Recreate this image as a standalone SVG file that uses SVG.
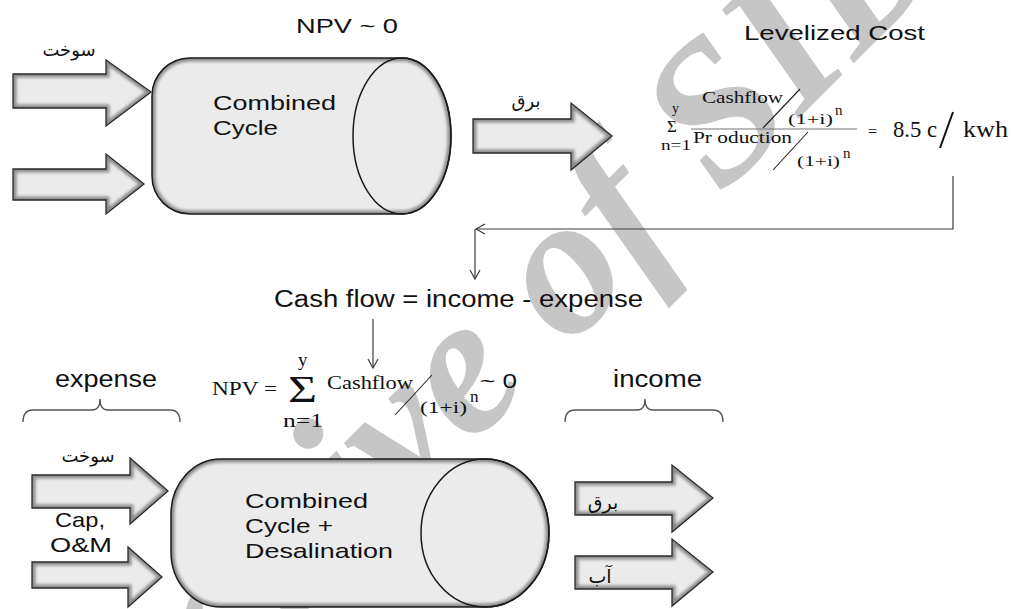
<svg xmlns="http://www.w3.org/2000/svg" xmlns:xlink="http://www.w3.org/1999/xlink" width="1012" height="609" viewBox="0 0 1012 609">
<style>
.sans{font-family:"Liberation Sans",Arial,sans-serif;fill:#111}
.ser{font-family:"Liberation Serif","Times New Roman",serif;fill:#111}
.ar{font-family:"DejaVu Sans","Noto Sans",sans-serif;fill:#111;text-anchor:middle}
.fill{fill:#ebebeb;stroke:none}
.bev{fill:none;stroke:#8c8c8c;stroke-width:7;filter:url(#bl)}
.edge{fill:none;stroke:#2a2a2a;stroke-width:1.3;stroke-linejoin:miter}
.cyl{fill:none;stroke:#1a1a1a;stroke-width:1.5}
.con{fill:none;stroke:#3c3c3c;stroke-width:1.2}
.brace{fill:none;stroke:#555;stroke-width:1.4}
.sl{stroke:#222;stroke-width:1.1}
.wm{font-family:"Liberation Serif","Times New Roman",serif;font-weight:bold;font-style:italic;font-size:200px;fill:#c6c6c6}
</style>
<defs>
<filter id="bl" x="-10%" y="-10%" width="120%" height="120%"><feGaussianBlur stdDeviation="1.8"/></filter>
<marker id="open" markerUnits="userSpaceOnUse" markerWidth="12" markerHeight="12" refX="10" refY="6" orient="auto"><path d="M1,1 L10,6 L1,11" fill="none" stroke="#3c3c3c" stroke-width="1.2"/></marker>
<path id="a1" d="M13,74 L106,74 L106,60 L151,92 L106,126 L106,108 L13,108 Z"/>
<path id="a2" d="M13,169 L106,169 L106,154 L144,184 L106,214 L106,200 L13,200 Z"/>
<path id="a3" d="M473,119 L571,119 L571,103 L612,136 L571,170 L571,153 L473,153 Z"/>
<path id="a4" d="M32,475 L130,475 L130,458 L168,491 L130,524 L130,508 L32,508 Z"/>
<path id="a5" d="M32,562 L128,562 L128,547 L162,577 L128,607 L128,588 L32,588 Z"/>
<path id="a6" d="M575,482 L672,482 L672,465 L713,498 L672,532 L672,515 L575,515 Z"/>
<path id="a7" d="M575,556 L672,556 L672,539 L713,572 L672,606 L672,589 L575,589 Z"/>
<path id="c1" d="M190,58 H402 A49,78 0 0 1 402,214 H190 A38,38 0 0 1 152,176 V96 A38,38 0 0 1 190,58 Z"/>
<path id="c2" d="M221,459 H485 A64,74 0 0 1 485,607 H221 A50,55 0 0 1 171,552 V514 A50,55 0 0 1 221,459 Z"/>
<clipPath id="k1"><use xlink:href="#a1"/></clipPath>
<clipPath id="k2"><use xlink:href="#a2"/></clipPath>
<clipPath id="k3"><use xlink:href="#a3"/></clipPath>
<clipPath id="k4"><use xlink:href="#a4"/></clipPath>
<clipPath id="k5"><use xlink:href="#a5"/></clipPath>
<clipPath id="k6"><use xlink:href="#a6"/></clipPath>
<clipPath id="k7"><use xlink:href="#a7"/></clipPath>
<clipPath id="kc1"><use xlink:href="#c1"/></clipPath>
<clipPath id="kc2"><use xlink:href="#c2"/></clipPath>
</defs>
<rect width="1012" height="609" fill="#fff"/>
<text class="wm" transform="translate(77,840) rotate(-45)">Archive of SID</text>

<g id="cylinder-top">
<use xlink:href="#c1" class="fill"/><use xlink:href="#c1" class="bev" clip-path="url(#kc1)"/><use xlink:href="#c1" class="cyl"/>
<ellipse cx="402" cy="136" rx="49" ry="78" class="cyl"/>
<text class="sans" x="213" y="110" font-size="21" textLength="123" lengthAdjust="spacingAndGlyphs">Combined</text>
<text class="sans" x="213" y="135" font-size="21" textLength="65" lengthAdjust="spacingAndGlyphs">Cycle</text>
</g>
<g id="arrow-fuel-top"><use xlink:href="#a1" class="fill"/><use xlink:href="#a1" class="bev" clip-path="url(#k1)"/><use xlink:href="#a1" class="edge"/>
<text class="ar" x="69" y="56" font-size="18">سوخت</text></g>
<g id="arrow-in2-top"><use xlink:href="#a2" class="fill"/><use xlink:href="#a2" class="bev" clip-path="url(#k2)"/><use xlink:href="#a2" class="edge"/></g>
<g id="arrow-power-top"><use xlink:href="#a3" class="fill"/><use xlink:href="#a3" class="bev" clip-path="url(#k3)"/><use xlink:href="#a3" class="edge"/>
<text class="ar" x="526" y="107" font-size="18">برق</text></g>
<text class="sans" x="296" y="33" font-size="21" textLength="102" lengthAdjust="spacingAndGlyphs">NPV ~ 0</text>

<g id="levelized-cost">
<text class="sans" x="744" y="40" font-size="21" textLength="181" lengthAdjust="spacingAndGlyphs">Levelized Cost</text>
<text class="ser" x="672" y="113" font-size="14">y</text>
<text class="ser" x="667" y="132" font-size="17">Σ</text>
<text class="ser" x="661" y="150" font-size="14" textLength="30" lengthAdjust="spacingAndGlyphs">n=1</text>
<text class="ser" x="702" y="103" font-size="16" textLength="81" lengthAdjust="spacingAndGlyphs">Cashflow</text>
<line class="sl" x1="763" y1="128" x2="800" y2="89"/>
<text class="ser" x="788" y="124" font-size="15" textLength="45" lengthAdjust="spacingAndGlyphs">(1+i)</text>
<text class="ser" x="835" y="115" font-size="15">n</text>
<line x1="691" y1="129" x2="857" y2="129" stroke="#777" stroke-width="1.2"/>
<text class="ser" x="693" y="143" font-size="16" textLength="99" lengthAdjust="spacingAndGlyphs">Pr oduction</text>
<line class="sl" x1="773" y1="170" x2="808" y2="132"/>
<text class="ser" x="797" y="166" font-size="15" textLength="43" lengthAdjust="spacingAndGlyphs">(1+i)</text>
<text class="ser" x="843" y="158" font-size="15">n</text>
<text class="ser" x="868" y="137" font-size="16">=</text>
<text class="ser" x="893" y="137" font-size="24" textLength="44" lengthAdjust="spacingAndGlyphs">8.5 c</text>
<line x1="940" y1="148" x2="953" y2="112" stroke="#111" stroke-width="2"/>
<text class="ser" x="963" y="137" font-size="24" textLength="45" lengthAdjust="spacingAndGlyphs">kwh</text>
</g>

<g id="connectors">
<path class="con" d="M953,176 V229 H476" marker-end="url(#open)"/>
<path class="con" d="M475,229 V279" marker-end="url(#open)"/>
<path class="con" d="M373,319 V368" marker-end="url(#open)"/>
</g>

<text id="cashflow" class="sans" x="274" y="307" font-size="23" textLength="369" lengthAdjust="spacingAndGlyphs">Cash flow = income - expense</text>

<g id="npv-formula">
<text class="ser" x="212" y="395" font-size="19" textLength="65" lengthAdjust="spacingAndGlyphs">NPV =</text>
<text class="ser" x="288" y="402" font-size="37" textLength="29" lengthAdjust="spacingAndGlyphs">Σ</text>
<text class="ser" x="298" y="366" font-size="19">y</text>
<text class="ser" x="283" y="427" font-size="19" textLength="40" lengthAdjust="spacingAndGlyphs">n=1</text>
<text class="ser" x="327" y="389" font-size="18" textLength="86" lengthAdjust="spacingAndGlyphs">Cashflow</text>
<line class="sl" x1="395" y1="415" x2="432" y2="375"/>
<text class="ser" x="420" y="413" font-size="17" textLength="47" lengthAdjust="spacingAndGlyphs">(1+i)</text>
<text class="ser" x="470" y="402" font-size="17">n</text>
<text class="sans" x="480" y="388" font-size="21" textLength="37" lengthAdjust="spacingAndGlyphs">~ 0</text>
</g>

<g id="expense">
<text class="sans" x="55" y="387" font-size="23" textLength="102" lengthAdjust="spacingAndGlyphs">expense</text>
<path class="brace" d="M23,422 Q23,410 33,410 L92,410 Q100,410 100,399 Q100,410 108,410 L170,410 Q180,410 180,422"/>
</g>
<g id="income">
<text class="sans" x="613" y="387" font-size="23" textLength="89" lengthAdjust="spacingAndGlyphs">income</text>
<path class="brace" d="M565,422 Q565,410 575,410 L637,410 Q645,410 645,399 Q645,410 653,410 L713,410 Q723,410 723,422"/>
</g>

<g id="cylinder-bottom">
<use xlink:href="#c2" class="fill"/><use xlink:href="#c2" class="bev" clip-path="url(#kc2)"/><use xlink:href="#c2" class="cyl"/>
<ellipse cx="485" cy="533" rx="64" ry="74" class="cyl"/>
<text class="sans" x="245" y="508" font-size="21" textLength="123" lengthAdjust="spacingAndGlyphs">Combined</text>
<text class="sans" x="245" y="533" font-size="21" textLength="88" lengthAdjust="spacingAndGlyphs">Cycle +</text>
<text class="sans" x="245" y="558" font-size="21" textLength="148" lengthAdjust="spacingAndGlyphs">Desalination</text>
</g>
<g id="arrow-fuel-bottom"><use xlink:href="#a4" class="fill"/><use xlink:href="#a4" class="bev" clip-path="url(#k4)"/><use xlink:href="#a4" class="edge"/>
<text class="ar" x="88" y="462" font-size="18">سوخت</text></g>
<g id="arrow-cap-bottom"><use xlink:href="#a5" class="fill"/><use xlink:href="#a5" class="bev" clip-path="url(#k5)"/><use xlink:href="#a5" class="edge"/>
<text class="sans" x="55" y="527" font-size="21" textLength="50" lengthAdjust="spacingAndGlyphs">Cap,</text>
<text class="sans" x="50" y="552" font-size="21" textLength="62" lengthAdjust="spacingAndGlyphs">O&amp;M</text></g>
<g id="arrow-power-bottom"><use xlink:href="#a6" class="fill"/><use xlink:href="#a6" class="bev" clip-path="url(#k6)"/><use xlink:href="#a6" class="edge"/>
<text class="ar" x="603" y="509" font-size="19">برق</text></g>
<g id="arrow-water-bottom"><use xlink:href="#a7" class="fill"/><use xlink:href="#a7" class="bev" clip-path="url(#k7)"/><use xlink:href="#a7" class="edge"/>
<text class="ar" x="600" y="583" font-size="19">آب</text></g>
</svg>
